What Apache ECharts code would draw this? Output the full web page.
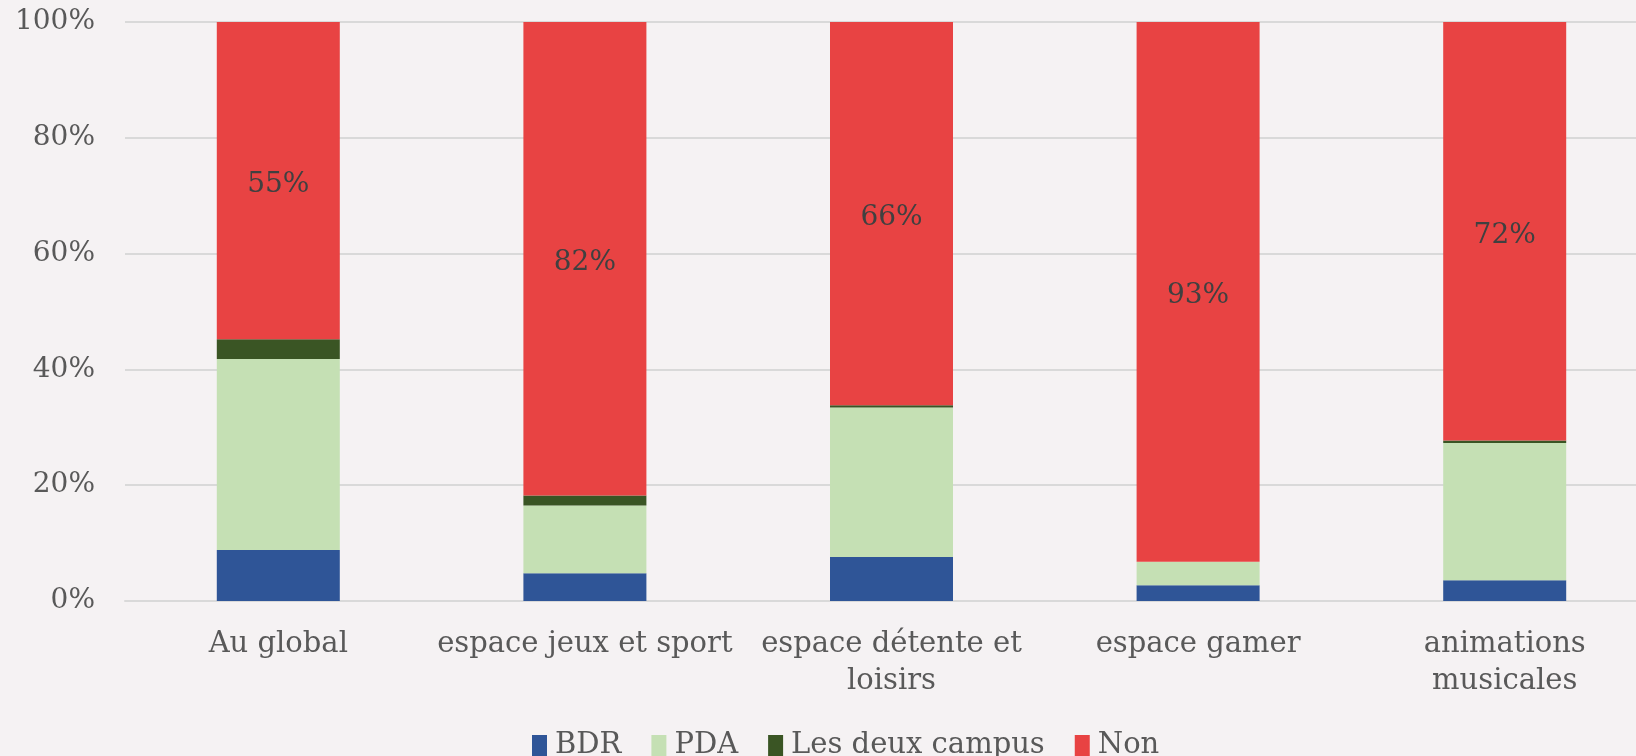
<!DOCTYPE html>
<html>
<head>
<meta charset="utf-8">
<script src="https://cdn.jsdelivr.net/npm/echarts@6/dist/echarts.min.js"></script>
<style>
  html, body { margin: 0; padding: 0; background: #f5f2f3; overflow: hidden; }
  /* le graphique d'origine est coupé à droite : conteneur plus large que la fenêtre */
  #chart { width: 1658px; height: 756px; }
</style>
</head>
<body>
<div id="chart"></div>
<script>
// categories and values (percent of answers)
var categories = ['Au global', 'espace jeux et sport', 'espace détente et\nloisirs', 'espace gamer', 'animations\nmusicales'];
var seriesNames = ['BDR', 'PDA', 'Les deux campus', 'Non'];
var bdr = [8.8, 4.8, 7.6, 2.7, 3.6];
var pda = [33.0, 11.7, 25.8, 4.1, 23.7];
var deux = [3.4, 1.7, 0.4, 0, 0.4];
var non = [54.8, 81.8, 66.2, 93.2, 72.3];
var yTicks = [0, 20, 40, 60, 80, 100];

var couleurs = ['#2f5597', '#c5e0b4', '#3a5524', '#e84343'];
var police = 'DejaVu Serif';

var chart = echarts.init(document.getElementById('chart'));

function serie(nom, datos, conEtiqueta) {
    return {
        name: nom,
        type: 'bar',
        stack: 'total',
        barWidth: 123,
        data: datos,
        label: {
            show: conEtiqueta,
            position: 'inside',
            offset: [0, 4],
            color: '#404040',
            fontFamily: police,
            fontSize: 28,
            formatter: function(p) { return Math.round(p.value) + '%'; }
        }
    };
}

chart.setOption({
    backgroundColor: '#f5f2f3',
    color: couleurs,
    textStyle: { fontFamily: police },
    grid: { left: 125, right: 0, top: 22, bottom: 155, containLabel: false },
    legend: {
        top: 726,
        left: 527,
        itemWidth: 15,
        itemHeight: 21,
        itemGap: 30,
        icon: 'rect',
        textStyle: { color: '#595959', fontSize: 29, fontFamily: police, padding: [0, 0, 0, 3] },
        data: seriesNames
    },
    xAxis: {
        type: 'category',
        data: categories,
        axisLine: { lineStyle: { color: '#d9d9d9', width: 2 } },
        axisTick: { show: false },
        axisLabel: {
            color: '#595959',
            fontSize: 29,
            fontFamily: police,
            margin: 25,
            lineHeight: 37,
            interval: 0
        }
    },
    yAxis: {
        type: 'value',
        min: 0,
        max: 100,
        interval: 20,
        axisLine: { show: false },
        axisTick: { show: false },
        splitLine: { lineStyle: { color: '#d9d9d9', width: 2 } },
        axisLabel: {
            color: '#595959',
            fontSize: 28,
            fontFamily: police,
            margin: 30,
            formatter: function(v) { return yTicks.indexOf(v) >= 0 ? v + '%' : ''; }
        }
    },
    series: [
        serie(seriesNames[0], bdr, false),
        serie(seriesNames[1], pda, false),
        serie(seriesNames[2], deux, false),
        serie(seriesNames[3], non, true)
    ]
});
</script>
</body>
</html>
